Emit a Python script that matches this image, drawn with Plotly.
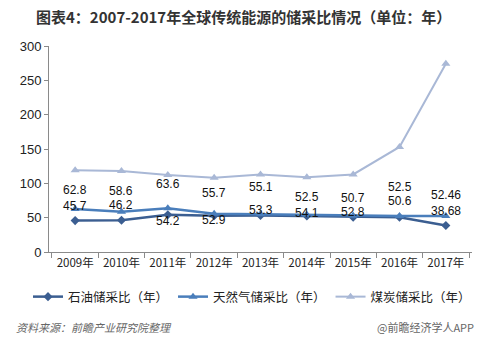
import plotly.graph_objects as go

years = ["2009年", "2010年", "2011年", "2012年", "2013年", "2014年", "2015年", "2016年", "2017年"]
oil = [45.7, 46.2, 54.2, 52.9, 53.3, 52.5, 50.7, 50.6, 38.68]
gas = [62.8, 58.6, 63.6, 55.7, 55.1, 54.1, 52.8, 52.5, 52.46]
coal = [119, 118, 112, 108, 113, 109, 113, 153, 274]
oil_labels = ["45.7", "46.2", "54.2", "52.9", "53.3", "52.5", "50.7", "50.6", "38.68"]
gas_labels = ["62.8", "58.6", "63.6", "55.7", "55.1", "54.1", "52.8", "52.5", "52.46"]

# label vertical offsets (px), styling only
oil_shift = [15, 15, -6, -4, 5, 19, 19, 16, 14]
gas_shift = [19, 21, 24, 21, 27, 2, 4, 29, 21]

CJK = "Noto Sans CJK SC"
W, H = 487, 352
L, R, T, B = 49, 15, 46, 100
plot_w = W - L - R
plot_h = H - T - B


def px_x(px):
    return (px - L) / plot_w


def px_y(py):
    return (H - B - py) / plot_h


fig = go.Figure()
fig.add_trace(go.Scatter(x=years, y=oil, name="石油储采比（年）", mode="lines+markers",
                         line=dict(color="#3B5E91", width=2.5),
                         marker=dict(symbol="diamond", size=7, color="#3B5E91")))
fig.add_trace(go.Scatter(x=years, y=gas, name="天然气储采比（年）", mode="lines+markers",
                         line=dict(color="#4A7EBB", width=2.5),
                         marker=dict(symbol="triangle-up", size=8, color="#4A7EBB")))
fig.add_trace(go.Scatter(x=years, y=coal, name="煤炭储采比（年）", mode="lines+markers",
                         line=dict(color="#A9B8D6", width=2),
                         marker=dict(symbol="triangle-up", size=8, color="#A9B8D6")))

anns = []
for ys, labs, shifts in [(oil, oil_labels, oil_shift), (gas, gas_labels, gas_shift)]:
    for x, y, t, s in zip(years, ys, labs, shifts):
        anns.append(dict(x=x, y=y, text=t, showarrow=False, yshift=s, xref="x", yref="y",
                         font=dict(family="Liberation Sans", size=12, color="#111")))

anns.append(dict(x=px_x(W / 2), y=px_y(16), xref="paper", yref="paper", xanchor="center",
                 yanchor="middle",
                 text="<b>图表4：2007-2017年全球传统能源的储采比情况（单位：年）</b>",
                 showarrow=False, font=dict(family=CJK, size=15, color="#333")))
anns.append(dict(x=px_x(14), y=px_y(327), xref="paper", yref="paper", xanchor="left",
                 yanchor="middle", text="<i>资料来源：前瞻产业研究院整理</i>", showarrow=False,
                 font=dict(family=CJK, size=11, color="#666")))
anns.append(dict(x=px_x(476), y=px_y(327), xref="paper", yref="paper", xanchor="right",
                 yanchor="middle", text="@前瞻经济学人APP", showarrow=False,
                 font=dict(family=CJK, size=11, color="#666")))

fig.update_layout(
    width=W, height=H,
    margin=dict(l=L, r=R, t=T, b=B),
    paper_bgcolor="white", plot_bgcolor="white",
    showlegend=True,
    legend=dict(orientation="h", x=px_x(28), xanchor="left", y=px_y(297), yanchor="middle",
                font=dict(family=CJK, size=12.5, color="#222"), itemwidth=30,
                traceorder="normal", tracegroupgap=0),
    xaxis=dict(showline=True, linecolor="#8a8a8a", ticks="outside", tickcolor="#8a8a8a",
               ticklen=5, tickson="boundaries", showgrid=False,
               tickfont=dict(family=CJK, size=11.5, color="#222")),
    yaxis=dict(range=[0, 300], dtick=50, showline=True, linecolor="#8a8a8a", ticks="outside",
               tickcolor="#8a8a8a", ticklen=4, showgrid=False, zeroline=False,
               tickfont=dict(family="Liberation Sans", size=13, color="#222")),
    annotations=anns,
)
fig.write_html("out.html")
